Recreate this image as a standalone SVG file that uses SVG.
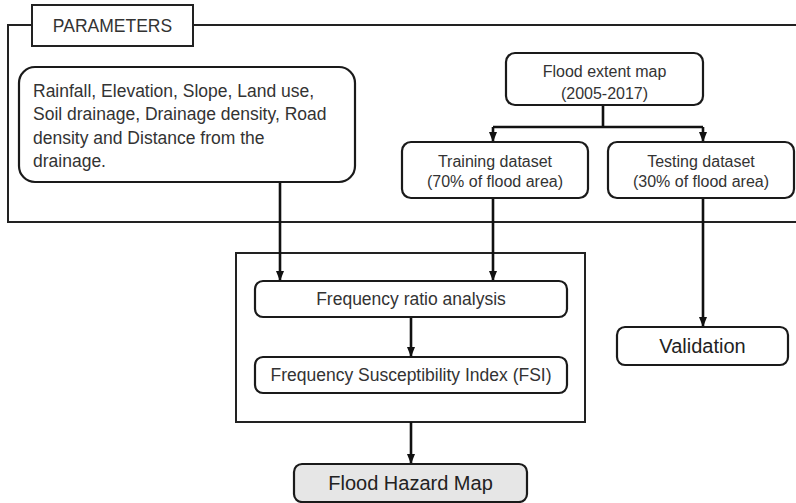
<svg xmlns="http://www.w3.org/2000/svg" width="796" height="503" viewBox="0 0 796 503">
<style>
.box{fill:#fff;stroke:#1a1a1a;stroke-width:2.2}
.frame{fill:none;stroke:#222;stroke-width:2}
.t{font-family:"Liberation Sans",Arial,sans-serif;fill:#333}
.s16{font-size:16px}
.s17{font-size:17.5px}
.s20{font-size:20px;fill:#222}
.c{text-anchor:middle}
.ln{fill:none;stroke:#111;stroke-width:2.6}
</style>
<defs>
<marker id="ah" markerUnits="userSpaceOnUse" markerWidth="10" markerHeight="10" viewBox="0 0 10 10" refX="10" refY="5" orient="auto">
<path d="M0,1 L10,5 L0,9 Z" fill="#111"/>
</marker>
</defs>
<g id="parameters-frame">
<path class="frame" d="M797,25 H8 V222 H797"/>
<rect x="32" y="5" width="161" height="41" fill="#fff" stroke="#222" stroke-width="2"/>
<text class="t s17 c" x="112.5" y="32">PARAMETERS</text>
</g>
<g id="analysis-frame">
<rect x="236" y="253" width="349" height="169" fill="none" stroke="#222" stroke-width="2"/>
</g>
<g id="connectors">
<path class="ln" d="M603,105 V127 M493,127 H703"/>
<path class="ln" d="M493,127 V142" marker-end="url(#ah)"/>
<path class="ln" d="M703,127 V142" marker-end="url(#ah)"/>
<path class="ln" d="M280,182 V281" marker-end="url(#ah)"/>
<path class="ln" d="M493,198 V281" marker-end="url(#ah)"/>
<path class="ln" d="M703,198 V327" marker-end="url(#ah)"/>
<path class="ln" d="M411,317 V357" marker-end="url(#ah)"/>
<path class="ln" d="M411,422 V464" marker-end="url(#ah)"/>
</g>
<g id="parameters-list">
<rect class="box" x="19" y="67" width="336" height="115" rx="16"/>
<text class="t s17" x="33" y="97">Rainfall, Elevation, Slope, Land use,</text>
<text class="t s17" x="33" y="120">Soil drainage, Drainage density, Road</text>
<text class="t s17" x="33" y="143.5">density and Distance from the</text>
<text class="t s17" x="33" y="167">drainage.</text>
</g>
<g id="flood-extent">
<rect class="box" x="506" y="53" width="197" height="52" rx="9"/>
<text class="t s16 c" x="604.5" y="77">Flood extent map</text>
<text class="t s16 c" x="604.5" y="99">(2005-2017)</text>
</g>
<g id="training">
<rect class="box" x="402" y="142" width="186" height="56" rx="9"/>
<text class="t s16 c" x="495" y="167">Training dataset</text>
<text class="t s16 c" x="495" y="187">(70% of flood area)</text>
</g>
<g id="testing">
<rect class="box" x="608" y="142" width="186" height="56" rx="9"/>
<text class="t s16 c" x="701" y="167">Testing dataset</text>
<text class="t s16 c" x="701" y="187">(30% of flood area)</text>
</g>
<g id="frequency-ratio">
<rect class="box" x="255" y="281" width="312" height="36" rx="8"/>
<text class="t s17 c" x="411" y="305">Frequency ratio analysis</text>
</g>
<g id="fsi">
<rect class="box" x="255" y="357" width="312" height="36" rx="8"/>
<text class="t s17 c" x="411" y="381">Frequency Susceptibility Index (FSI)</text>
</g>
<g id="validation">
<rect class="box" x="617" y="327" width="171" height="38" rx="8"/>
<text class="t s20 c" x="702.5" y="353">Validation</text>
</g>
<g id="flood-hazard-map">
<rect class="box" x="294" y="464" width="233" height="38" rx="8" style="fill:#e6e6e6"/>
<text class="t s20 c" x="410.5" y="490">Flood Hazard Map</text>
</g>
</svg>
